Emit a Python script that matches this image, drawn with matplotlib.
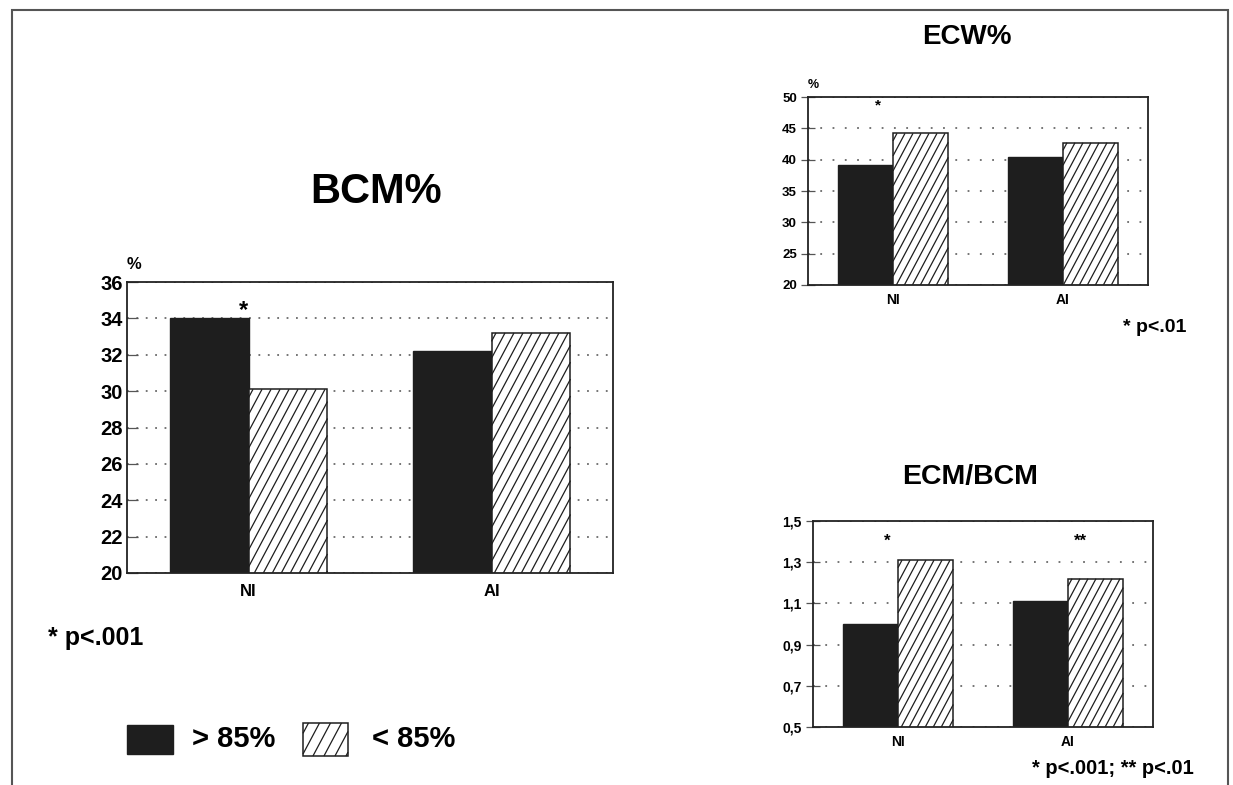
import numpy as np
import matplotlib
matplotlib.use("Agg")
from matplotlib import pyplot as plt
from matplotlib.patches import Rectangle
from matplotlib.collections import LineCollection
from matplotlib.transforms import IdentityTransform

plt.rcParams['font.family'] = ['Liberation Sans', 'DejaVu Sans']
plt.rcParams['font.weight'] = 'bold'

W, H = 1233, 785

groups = ["NI", "AI"]
series = ["> 85%", "< 85%"]

bcm_high = [34.0, 32.2]
bcm_low = [30.1, 33.2]
bcm_ticks = [20, 22, 24, 26, 28, 30, 32, 34, 36]

ecw_high = [39.2, 40.5]
ecw_low = [44.2, 42.7]
ecw_ticks = [20, 25, 30, 35, 40, 45, 50]

ecm_high = [1.00, 1.11]
ecm_low = [1.31, 1.22]
ecm_ticks = [0.5, 0.7, 0.9, 1.1, 1.3, 1.5]
ecm_ticklabels = ["0,5", "0,7", "0,9", "1,1", "1,3", "1,5"]

BAR_W = 0.325
DARK = "#1e1e1e"


def px_axes(fig, left, top, right, bottom):
    return fig.add_axes([left / W, 1 - bottom / H, (right - left) / W, (bottom - top) / H])


def hatch_patch(ax, patch, spacing=9, angle=62, lw=0.9):
    # steep diagonal hatch in pixel space, each line cut to the patch box
    bb = patch.get_window_extent()
    run = bb.height / np.tan(np.radians(angle))
    segs = []
    xs = bb.x0 - run + spacing / 2
    while xs < bb.x1:
        t0 = max(0.0, (bb.x0 - xs) / run)
        t1 = min(1.0, (bb.x1 - xs) / run)
        if t1 > t0:
            segs.append([(xs + t0 * run, bb.y0 + t0 * bb.height),
                         (xs + t1 * run, bb.y0 + t1 * bb.height)])
        xs += spacing
    lc = LineCollection(segs, colors=DARK, linewidths=lw,
                        transform=IdentityTransform(), zorder=2.5)
    ax.add_artist(lc)


def bar_panel(ax, high, low, ticks, ticklabels, tick_fs, xlab_fs, xlab_pad,
              dot_gap, tick_dir, tick_len):
    x = np.arange(len(groups))
    ax.set_xlim(-0.5, 1.5)
    ax.set_ylim(ticks[0], ticks[-1])
    ax.set_yticks(ticks)
    ax.set_yticklabels(ticklabels, fontsize=tick_fs, fontweight='bold')
    ax.set_xticks(x)
    ax.set_xticklabels(groups, fontsize=xlab_fs, fontweight='bold')
    ax.tick_params(axis='x', length=0, pad=xlab_pad)
    ax.tick_params(axis='y', direction=tick_dir, length=tick_len, width=0.9,
                   color='#555', pad=3)
    ax.grid(axis='y', linestyle=(0, (1, dot_gap)), color='#6a6a6a', linewidth=1.3)
    ax.set_axisbelow(True)
    for s in ax.spines.values():
        s.set_linewidth(1.3)
        s.set_color('#222')
    ax.bar(x - BAR_W / 2, high, BAR_W, color=DARK, edgecolor=DARK, linewidth=1, zorder=2)
    hb = ax.bar(x + BAR_W / 2, low, BAR_W, color='white', edgecolor=DARK, linewidth=1.1, zorder=2)
    return hb


fig = plt.figure(figsize=(W / 100, H / 100), dpi=100)
fig.patch.set_facecolor('white')

# page frame
fig.add_artist(Rectangle((12 / W, -0.05), (1228 - 12) / W, 1.05 - 10 / H,
                         transform=fig.transFigure, fill=False, edgecolor='#555', linewidth=1.5))

ax1 = px_axes(fig, 127, 282, 613, 573)
ax2 = px_axes(fig, 808, 97, 1148, 285)
ax3 = px_axes(fig, 813, 521, 1153, 727)

h1 = bar_panel(ax1, bcm_high, bcm_low, bcm_ticks, [str(t) for t in bcm_ticks],
               14.5, 12, 8, 4.2, 'in', 8)
h2 = bar_panel(ax2, ecw_high, ecw_low, ecw_ticks, [str(t) for t in ecw_ticks],
               9.5, 10, 6, 5.8, 'inout', 10)
h3 = bar_panel(ax3, ecm_high, ecm_low, ecm_ticks, ecm_ticklabels,
               10, 10, 6, 5.8, 'inout', 10)

for ax, hb, sp in [(ax1, h1, 9), (ax2, h2, 8), (ax3, h3, 8)]:
    for p in hb.patches:
        hatch_patch(ax, p, spacing=sp)

# significance marks
ax1.text(-0.02, 34.45, "*", ha='center', va='center', fontsize=17, fontweight='bold')
ax2.text(-0.09, 48.7, "*", ha='center', va='center', fontsize=11, fontweight='bold')
ax3.text(-0.065, 1.40, "*", ha='center', va='center', fontsize=12, fontweight='bold')
ax3.text(1.075, 1.40, "**", ha='center', va='center', fontsize=12, fontweight='bold')


def ftext(x, y, s, **kw):
    kw.setdefault('fontweight', 'bold')
    fig.text(x / W, 1 - y / H, s, **kw)


ftext(376, 192, "BCM%", ha='center', va='center', fontsize=30)
ftext(967, 37, "ECW%", ha='center', va='center', fontsize=20)
ftext(970, 477, "ECM/BCM", ha='center', va='center', fontsize=20.5)

ftext(134, 265, "%", ha='center', va='center', fontsize=12)
ftext(813, 85, "%", ha='center', va='center', fontsize=9)

ftext(48, 638, "* p<.001", ha='left', va='center', fontsize=18)
ftext(1186, 327, "* p<.01", ha='right', va='center', fontsize=14)
ftext(1194, 768, "* p<.001; ** p<.01", ha='right', va='center', fontsize=14.5)

# legend keys
legax = px_axes(fig, 0, 700, W, 785)
legax.set_xlim(0, W)
legax.set_ylim(785, 700)
legax.axis('off')
k1 = Rectangle((127, 725), 46, 29, facecolor=DARK, edgecolor=DARK)
k2 = Rectangle((303, 723), 45, 33, facecolor='white', edgecolor=DARK, linewidth=1.1)
legax.add_patch(k1)
legax.add_patch(k2)
hatch_patch(legax, k2, spacing=11)
legax.text(192, 739, series[0], ha='left', va='center', fontsize=21, fontweight='bold')
legax.text(372, 739, series[1], ha='left', va='center', fontsize=21, fontweight='bold')

fig.savefig("out.png", dpi=100)
